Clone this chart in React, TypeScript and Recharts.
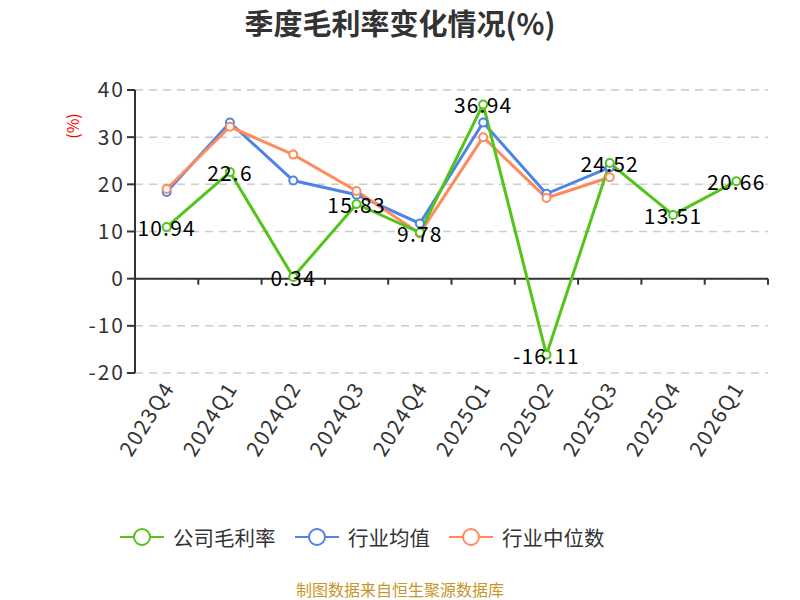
import React from 'react';
import { LineChart, Line, XAxis, YAxis, CartesianGrid, ReferenceLine, LabelList } from 'recharts';

const quarters = ['2023Q4', '2024Q1', '2024Q2', '2024Q3', '2024Q4', '2025Q1', '2025Q2', '2025Q3', '2025Q4', '2026Q1'];
const companyMargin = [10.94, 22.6, 0.34, 15.83, 9.78, 36.94, -16.11, 24.52, 13.51, 20.66];
const industryMean = [18.4, 33.1, 20.8, 17.8, 11.7, 33.1, 18.0, 23.6, null, null];
const industryMedian = [19.0, 32.2, 26.3, 18.6, 9.6, 30.0, 17.1, 21.5, null, null];
const yTicks = [-20, -10, 0, 10, 20, 30, 40];

const GREEN = '#52c41a';
const BLUE = '#4f83e8';
const ORANGE = '#ff8b5c';
const FONT = '"Noto Sans CJK SC", "Noto Sans", sans-serif';

const data = quarters.map((q, i) => ({
  q,
  company: companyMargin[i],
  mean: industryMean[i],
  median: industryMedian[i],
}));

// plot box
const TOP = 90;
const BOTTOM = 373;
const LEFT = 135;
const RIGHT = 768;
const zeroY = TOP + ((40 - 0) / 60) * (BOTTOM - TOP);
const band = (RIGHT - LEFT) / quarters.length;

const XTick = (props: any) => {
  const { x, y, payload, index } = props;
  const ax = x + 1;
  const ay = y + 2;
  return (
    <g>
      {index > 0 ? (
        <line x1={x - band / 2} x2={x - band / 2} y1={zeroY} y2={zeroY + 6} stroke="#333" strokeWidth={2} />
      ) : null}
      {index === quarters.length - 1 ? (
        <line x1={x + band / 2} x2={x + band / 2} y1={zeroY} y2={zeroY + 6} stroke="#333" strokeWidth={2} />
      ) : null}
      <text
        x={ax}
        y={ay}
        textAnchor="end"
        dominantBaseline="central"
        transform={`rotate(-58, ${ax}, ${ay})`}
        fill="#333"
        fontSize={21}
        letterSpacing={1.5}
        fontFamily={FONT}
      >
        {payload.value}
      </text>
    </g>
  );
};

const ValueLabel = (props: any) => {
  const { x, y, value } = props;
  return (
    <text
      x={x}
      y={y}
      textAnchor="middle"
      dominantBaseline="central"
      fill="#000"
      fontSize={21}
      letterSpacing={1.2}
      fontFamily={FONT}
    >
      {value}
    </text>
  );
};

const LegendItem = ({ color, label, left }: { color: string; label: string; left: number }) => (
  <div style={{ position: 'absolute', left, top: 522, height: 30, display: 'flex', alignItems: 'center' }}>
    <svg width={44} height={30}>
      <line x1={0} x2={44} y1={15} y2={15} stroke={color} strokeWidth={2} />
      <circle cx={22} cy={15} r={8} fill="#fff" stroke={color} strokeWidth={2} />
    </svg>
    <span style={{ marginLeft: 9, fontSize: 20.5, color: '#333', fontFamily: FONT, whiteSpace: 'nowrap' }}>{label}</span>
  </div>
);

export default function App() {
  return (
    <div style={{ position: 'absolute', left: 0, top: 0, width: 800, height: 600, background: '#fff', fontFamily: FONT, overflow: 'hidden' }}>
      <div
        style={{
          position: 'absolute',
          top: 4,
          width: 800,
          textAlign: 'center',
          fontSize: 29,
          lineHeight: '36px',
          fontWeight: 'bold',
          color: '#333',
        }}
      >
        季度毛利率变化情况(%)
      </div>
      <div
        style={{
          position: 'absolute',
          left: 58,
          top: 116,
          width: 28,
          height: 20,
          transform: 'rotate(-90deg)',
          color: 'red',
          fontSize: 16,
          lineHeight: '20px',
          textAlign: 'center',
        }}
      >
        (%)
      </div>
      <LineChart
        width={800}
        height={600}
        data={data}
        margin={{ top: TOP, right: 800 - RIGHT, left: 75, bottom: 127 }}
        style={{ position: 'absolute', left: 0, top: 0 }}
      >
        <CartesianGrid horizontal vertical={false} stroke="#ccc" strokeDasharray="8 6" strokeWidth={1.5} />
        <XAxis dataKey="q" scale="band" axisLine={false} tickLine={false} height={100} interval={0} tick={<XTick />} />
        <YAxis
          width={60}
          domain={[-20, 40]}
          ticks={yTicks}
          interval={0}
          axisLine={{ stroke: '#333', strokeWidth: 2 }}
          tickLine={{ stroke: '#333', strokeWidth: 2 }}
          tickSize={8}
          tick={{ fill: '#333', fontSize: 21, fontFamily: FONT, letterSpacing: 2 }}
        />
        <ReferenceLine y={0} stroke="#333" strokeWidth={2} />
        <Line
          dataKey="mean"
          stroke={BLUE}
          strokeWidth={3}
          dot={{ r: 4, fill: '#fff', stroke: BLUE, strokeWidth: 2 }}
          isAnimationActive={false}
        />
        <Line
          dataKey="median"
          stroke={ORANGE}
          strokeWidth={3}
          dot={{ r: 4, fill: '#fff', stroke: ORANGE, strokeWidth: 2 }}
          isAnimationActive={false}
        />
        <Line
          dataKey="company"
          stroke={GREEN}
          strokeWidth={3}
          dot={{ r: 4, fill: '#fff', stroke: GREEN, strokeWidth: 2 }}
          isAnimationActive={false}
        >
          <LabelList dataKey="company" content={<ValueLabel />} />
        </Line>
      </LineChart>
      <LegendItem color={GREEN} label="公司毛利率" left={120} />
      <LegendItem color={BLUE} label="行业均值" left={295} />
      <LegendItem color={ORANGE} label="行业中位数" left={449} />
      <div
        style={{
          position: 'absolute',
          top: 579,
          width: 800,
          textAlign: 'center',
          fontSize: 16,
          lineHeight: '20px',
          color: '#c8962b',
        }}
      >
        制图数据来自恒生聚源数据库
      </div>
    </div>
  );
}
